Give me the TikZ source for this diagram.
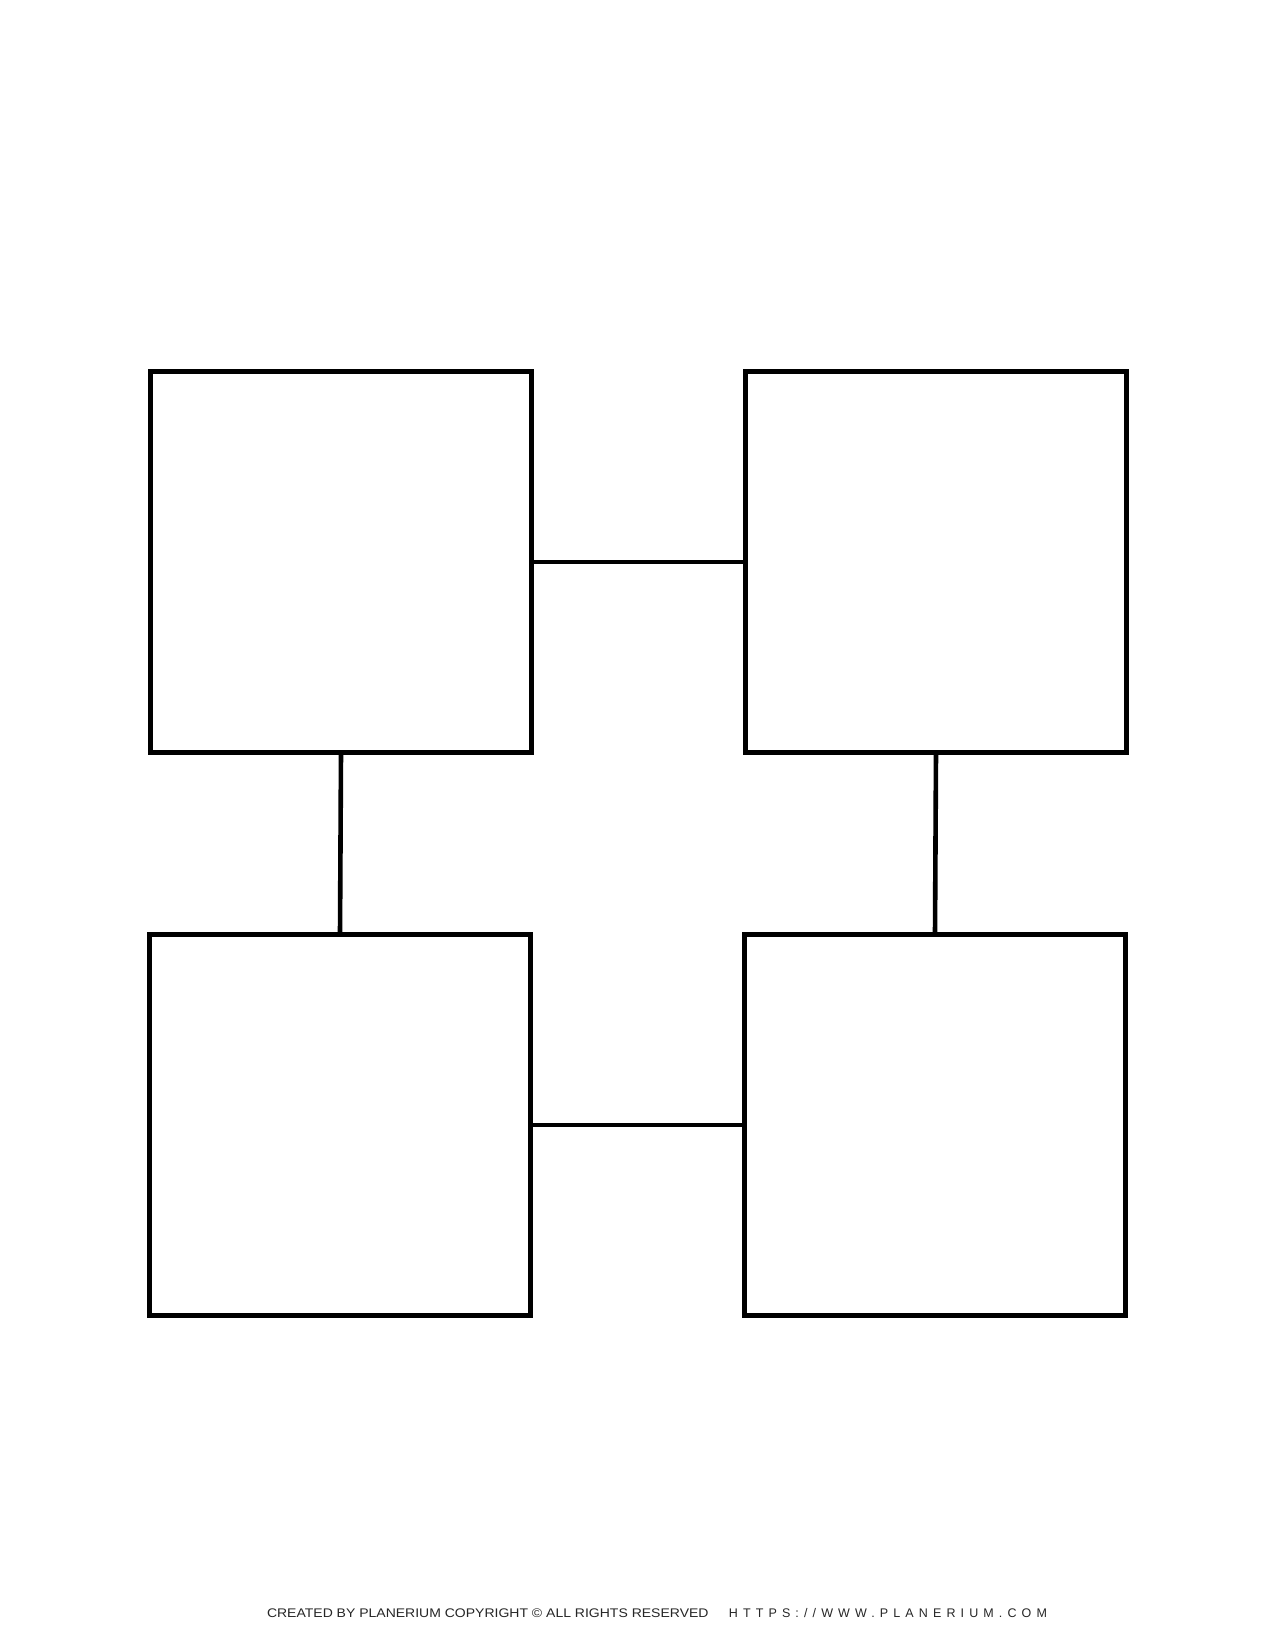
\documentclass[tikz,border=0pt]{standalone}
\usepackage{fontspec}
\setmainfont{Liberation Sans}
\newfontfamily\urlfont[LetterSpace=41]{Liberation Sans}
\begin{document}
\begin{tikzpicture}[x=1pt,y=-1pt,
  boxnode/.style={draw=black,line width=5pt,minimum width=381pt,minimum height=381pt,inner sep=0pt,outer sep=0pt,fill=white},
  linkline/.style={draw=black,line width=4.6pt},
  foot/.style={inner sep=0pt,outer sep=0pt,text=black!85}]
\useasboundingbox[fill=white] (0,0) rectangle (1275,1650);
\node[boxnode] (tl) at (341,562) {};
\node[boxnode] (tr) at (936,562) {};
\node[boxnode] (bl) at (340,1125) {};
\node[boxnode] (br) at (935,1125) {};
\draw[linkline] (tl.east) -- (tr.west);
\draw[linkline] (bl.east) -- (br.west);
\draw[linkline] (tl.south) -- (bl.north);
\draw[linkline] (tr.south) -- (br.north);
\node[foot,anchor=west,font=\fontsize{12.5}{14}\selectfont] (credit) at (267,1613) {\scalebox{1.12}[1]{CREATED BY PLANERIUM COPYRIGHT © ALL RIGHTS RESERVED}};
\node[foot,anchor=east,font=\urlfont\fontsize{12.5}{14}\selectfont] (site) at (1047,1613) {HTTPS://WWW.PLANERIUM.COM};
\end{tikzpicture}
\end{document}
